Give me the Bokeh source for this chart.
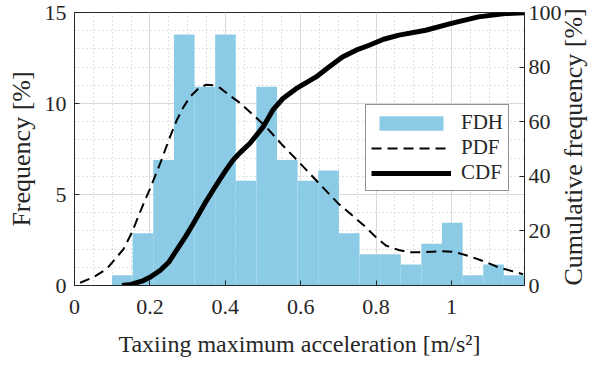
import math
from bokeh.plotting import figure
from bokeh.models import (Range1d, LinearAxis, FixedTicker, CustomJSTickFormatter,
                          Legend, LegendItem)
from bokeh.embed import file_html
from bokeh.resources import INLINE

# ---- data ----
bin_edges = [0.0996, 0.1543, 0.2090, 0.2638, 0.3185, 0.3732, 0.4279, 0.4826, 0.5374,
             0.5921, 0.6468, 0.7015, 0.7562, 0.8110, 0.8657, 0.9204, 0.9751, 1.0298,
             1.0846, 1.1393, 1.1940]
fdh_pct = [0.57, 2.87, 6.90, 13.79, 10.92, 13.79, 5.75, 10.92, 6.90, 5.75,
           6.32, 2.87, 1.72, 1.72, 1.15, 2.30, 3.45, 0.57, 1.15, 0.57]

pdf_x = [0.015, 0.05, 0.086, 0.13, 0.152, 0.183, 0.2, 0.227, 0.254, 0.271, 0.289, 0.306,
         0.33, 0.35, 0.37, 0.386, 0.412, 0.438, 0.47, 0.509, 0.55, 0.597, 0.65, 0.70,
         0.74, 0.773, 0.8, 0.826, 0.86, 0.887, 0.92, 0.949, 0.975, 1.002, 1.03, 1.055,
         1.09, 1.125, 1.16, 1.19]
pdf_y = [0.15, 0.45, 0.92, 2.0, 2.9, 4.49, 5.3, 6.69, 8.2, 9.07, 9.8, 10.35,
         10.85, 11.03, 11.0, 10.86, 10.44, 10.05, 9.45, 8.7, 7.75, 6.75, 5.59, 4.5,
         3.8, 3.2, 2.65, 2.2, 1.95, 1.83, 1.82, 1.86, 1.88, 1.86, 1.72, 1.56,
         1.3, 1.0, 0.8, 0.62]

cdf_x = [0.126, 0.15, 0.183, 0.2, 0.227, 0.25, 0.271, 0.295, 0.315, 0.35, 0.368, 0.403,
         0.421, 0.438, 0.465, 0.5, 0.526, 0.553, 0.588, 0.641, 0.676, 0.711, 0.747, 0.782,
         0.82, 0.861, 0.932, 1.0, 1.072, 1.143, 1.194]
cdf_y = [0, 0.4, 1.8, 3.0, 5.5, 8.5, 13, 18, 22.6, 31, 35, 42.5,
         46, 48.5, 52, 58, 64.2, 68.5, 72.1, 76.4, 80.1, 83.7, 86.2, 88,
         90.2, 91.7, 93.5, 96, 98.4, 99.6, 99.9]

x_ticks = [0, 0.2, 0.4, 0.6, 0.8, 1.0]
y_ticks = [0, 5, 10, 15]
y2_ticks = [0, 20, 40, 60, 80, 100]

FONT = "Liberation Serif"
TXT = "#262626"

p = figure(width=605, height=365, output_backend="svg", toolbar_location=None,
           x_range=Range1d(0, 1.194), y_range=Range1d(0, 15),
           min_border_left=74, min_border_right=79, min_border_top=12, min_border_bottom=80,
           background_fill_color="white", border_fill_color="white")
p.extra_y_ranges = {"cdf": Range1d(0, 100)}
p.outline_line_color = TXT
p.outline_line_width = 1

minor_x = [i * 0.05 for i in range(0, 25)]
minor_y = list(range(0, 16))
p.xaxis.ticker = FixedTicker(ticks=x_ticks, minor_ticks=minor_x)
p.yaxis.ticker = FixedTicker(ticks=y_ticks, minor_ticks=minor_y)
p.xaxis.formatter = CustomJSTickFormatter(code="return String(Number(tick.toFixed(2)));")

for g in (p.xgrid, p.ygrid):
    g.grid_line_color = "#d9d9d9"
    g.grid_line_width = 1
    g.minor_grid_line_color = "#c4c4c4"
    g.minor_grid_line_dash = "1 3"
    g.minor_grid_line_width = 1

right = LinearAxis(y_range_name="cdf", ticker=FixedTicker(ticks=y2_ticks))
p.add_layout(right, "right")

for ax in (p.xaxis[0], p.yaxis[0], right):
    ax.axis_line_color = TXT
    ax.major_tick_line_color = TXT
    ax.major_tick_in = 5
    ax.major_tick_out = 0
    ax.minor_tick_in = 0
    ax.minor_tick_out = 0
    ax.major_label_text_font = FONT
    ax.major_label_text_font_size = "22px"
    ax.major_label_text_color = TXT
    ax.axis_label_text_font = FONT
    ax.axis_label_text_font_size = "26px"
    ax.axis_label_text_font_style = "normal"
    ax.axis_label_text_color = TXT

p.xaxis.axis_label = "Taxiing maximum acceleration [m/s²]"
p.xaxis.axis_label_text_font_size = "24px"
p.xaxis.major_label_standoff = 14
p.xaxis.axis_label_standoff = 14
p.yaxis[0].axis_label = "Frequency [%]"
p.yaxis[0].major_label_standoff = 8
p.yaxis[0].axis_label_standoff = 6
right.major_label_standoff = 4

right.axis_label = "Cumulative frequency [%]"
right.axis_label_orientation = math.pi / 2
right.axis_label_standoff = 9
try:
    right.axis_label_align = "start"
except Exception:
    pass

bars = p.quad(left=bin_edges[:-1], right=bin_edges[1:], bottom=0, top=fdh_pct,
              fill_color="#8ccbe6", line_color=None)
pdf = p.line(pdf_x, pdf_y, line_color="black", line_width=2, line_dash="10 6")
cdf = p.line(cdf_x, cdf_y, line_color="black", line_width=5, y_range_name="cdf")

legend = Legend(items=[LegendItem(label="FDH", renderers=[bars]),
                       LegendItem(label="PDF", renderers=[pdf]),
                       LegendItem(label="CDF", renderers=[cdf])],
                location=(291, 94))
legend.label_text_font = FONT
legend.label_text_font_size = "21px"
legend.label_text_color = TXT
legend.border_line_color = TXT
legend.border_line_width = 1
legend.glyph_width = 80
legend.glyph_height = 18
legend.label_standoff = 10
legend.spacing = 0
legend.padding = 5
legend.margin = 0
legend.background_fill_alpha = 1
p.add_layout(legend, "center")

open("out.html", "w").write(file_html(p, INLINE))
